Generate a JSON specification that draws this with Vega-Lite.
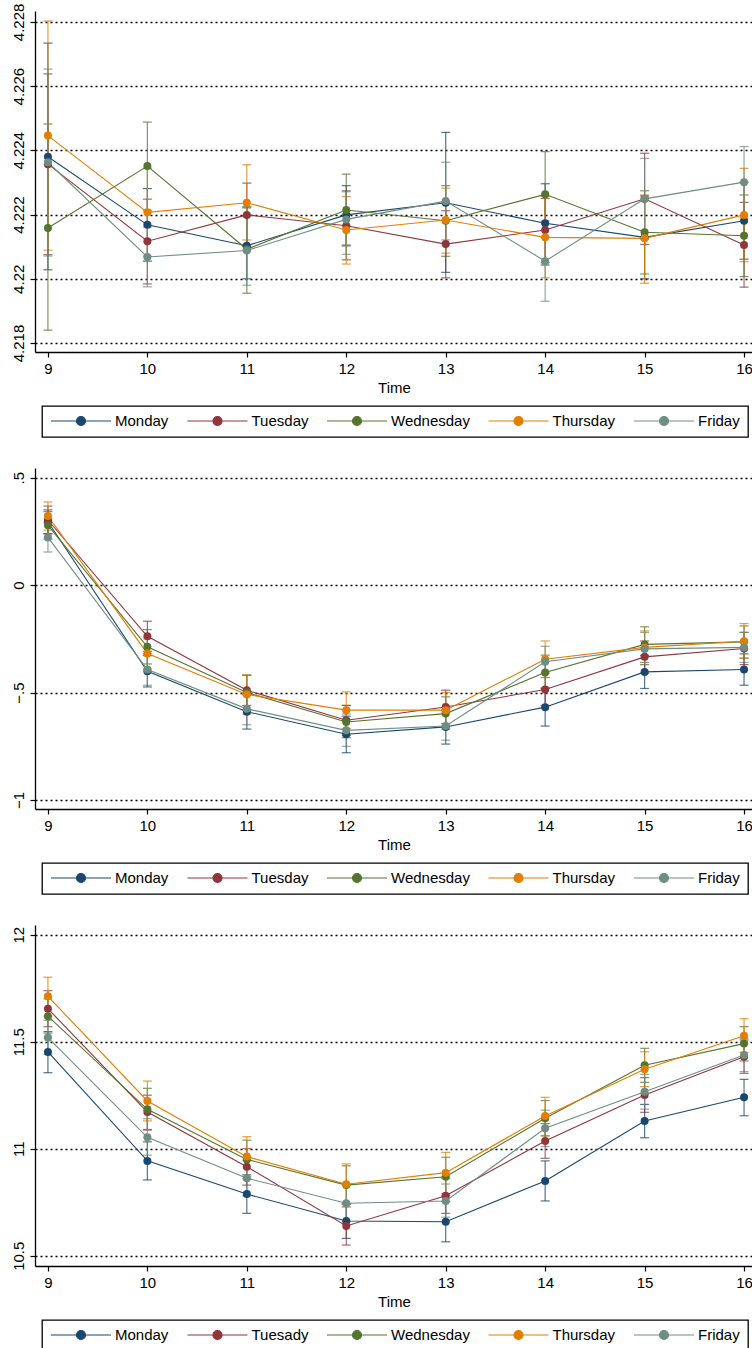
{
  "$schema": "https://vega.github.io/schema/vega-lite/v6.json",
  "padding": {"left": 10, "top": 3, "right": 0, "bottom": 0},
  "background": "white",
  "spacing": 30,
  "datasets": {
    "p1": [
      {"h":9,"d":"Monday","m":4.2238,"lo":4.22028,"hi":4.22734},
      {"h":10,"d":"Monday","m":4.22168,"lo":4.22055,"hi":4.22281},
      {"h":11,"d":"Monday","m":4.22103,"lo":4.2200,"hi":4.22221},
      {"h":12,"d":"Monday","m":4.22199,"lo":4.22105,"hi":4.2229},
      {"h":13,"d":"Monday","m":4.22237,"lo":4.2202,"hi":4.22456},
      {"h":14,"d":"Monday","m":4.22173,"lo":4.22043,"hi":4.22296},
      {"h":15,"d":"Monday","m":4.22129,"lo":4.2200,"hi":4.22258},
      {"h":16,"d":"Monday","m":4.22181,"lo":4.22061,"hi":4.22301},
      {"h":9,"d":"Tuesday","m":4.22357,"lo":4.22075,"hi":4.22638},
      {"h":10,"d":"Tuesday","m":4.22117,"lo":4.21984,"hi":4.22248},
      {"h":11,"d":"Tuesday","m":4.22199,"lo":4.221,"hi":4.22298},
      {"h":12,"d":"Tuesday","m":4.22165,"lo":4.22059,"hi":4.22274},
      {"h":13,"d":"Tuesday","m":4.22108,"lo":4.22003,"hi":4.22212},
      {"h":14,"d":"Tuesday","m":4.22152,"lo":4.2205,"hi":4.2225},
      {"h":15,"d":"Tuesday","m":4.22249,"lo":4.22107,"hi":4.22391},
      {"h":16,"d":"Tuesday","m":4.22105,"lo":4.21974,"hi":4.22238},
      {"h":9,"d":"Wednesday","m":4.22158,"lo":4.2184,"hi":4.22482},
      {"h":10,"d":"Wednesday","m":4.22351,"lo":4.22214,"hi":4.22488},
      {"h":11,"d":"Wednesday","m":4.22092,"lo":4.21955,"hi":4.22225},
      {"h":12,"d":"Wednesday","m":4.22214,"lo":4.22102,"hi":4.22326},
      {"h":13,"d":"Wednesday","m":4.22181,"lo":4.2207,"hi":4.2229},
      {"h":14,"d":"Wednesday","m":4.22263,"lo":4.2213,"hi":4.22396},
      {"h":15,"d":"Wednesday","m":4.22145,"lo":4.22015,"hi":4.22274},
      {"h":16,"d":"Wednesday","m":4.22134,"lo":4.22007,"hi":4.22261},
      {"h":9,"d":"Thursday","m":4.22446,"lo":4.22089,"hi":4.22803},
      {"h":10,"d":"Thursday","m":4.22207,"lo":4.2207,"hi":4.22344},
      {"h":11,"d":"Thursday","m":4.22237,"lo":4.22121,"hi":4.22355},
      {"h":12,"d":"Thursday","m":4.22152,"lo":4.22046,"hi":4.22256},
      {"h":13,"d":"Thursday","m":4.22183,"lo":4.2208,"hi":4.22282},
      {"h":14,"d":"Thursday","m":4.22129,"lo":4.22003,"hi":4.22256},
      {"h":15,"d":"Thursday","m":4.22126,"lo":4.21986,"hi":4.22261},
      {"h":16,"d":"Thursday","m":4.22199,"lo":4.22053,"hi":4.22344},
      {"h":9,"d":"Friday","m":4.22363,"lo":4.22071,"hi":4.22653},
      {"h":10,"d":"Friday","m":4.22068,"lo":4.21975,"hi":4.22161},
      {"h":11,"d":"Friday","m":4.22088,"lo":4.2198,"hi":4.22196},
      {"h":12,"d":"Friday","m":4.22185,"lo":4.22076,"hi":4.22271},
      {"h":13,"d":"Friday","m":4.22242,"lo":4.22121,"hi":4.22363},
      {"h":14,"d":"Friday","m":4.22055,"lo":4.2193,"hi":4.2218},
      {"h":15,"d":"Friday","m":4.22249,"lo":4.22123,"hi":4.22375},
      {"h":16,"d":"Friday","m":4.22301,"lo":4.2219,"hi":4.22412}
    ],
    "p2": [
      {"h":9,"d":"Monday","m":0.295,"lo":0.24,"hi":0.35},
      {"h":10,"d":"Monday","m":-0.401,"lo":-0.474,"hi":-0.328},
      {"h":11,"d":"Monday","m":-0.589,"lo":-0.67,"hi":-0.51},
      {"h":12,"d":"Monday","m":-0.694,"lo":-0.78,"hi":-0.61},
      {"h":13,"d":"Monday","m":-0.66,"lo":-0.74,"hi":-0.58},
      {"h":14,"d":"Monday","m":-0.568,"lo":-0.656,"hi":-0.48},
      {"h":15,"d":"Monday","m":-0.404,"lo":-0.481,"hi":-0.327},
      {"h":16,"d":"Monday","m":-0.393,"lo":-0.466,"hi":-0.32},
      {"h":9,"d":"Tuesday","m":0.303,"lo":0.238,"hi":0.368},
      {"h":10,"d":"Tuesday","m":-0.238,"lo":-0.308,"hi":-0.168},
      {"h":11,"d":"Tuesday","m":-0.489,"lo":-0.56,"hi":-0.419},
      {"h":12,"d":"Tuesday","m":-0.629,"lo":-0.7,"hi":-0.56},
      {"h":13,"d":"Tuesday","m":-0.567,"lo":-0.645,"hi":-0.489},
      {"h":14,"d":"Tuesday","m":-0.486,"lo":-0.56,"hi":-0.41},
      {"h":15,"d":"Tuesday","m":-0.334,"lo":-0.41,"hi":-0.26},
      {"h":16,"d":"Tuesday","m":-0.295,"lo":-0.37,"hi":-0.22},
      {"h":9,"d":"Wednesday","m":0.278,"lo":0.214,"hi":0.342},
      {"h":10,"d":"Wednesday","m":-0.287,"lo":-0.367,"hi":-0.207},
      {"h":11,"d":"Wednesday","m":-0.5,"lo":-0.58,"hi":-0.42},
      {"h":12,"d":"Wednesday","m":-0.637,"lo":-0.71,"hi":-0.56},
      {"h":13,"d":"Wednesday","m":-0.598,"lo":-0.67,"hi":-0.52},
      {"h":14,"d":"Wednesday","m":-0.407,"lo":-0.48,"hi":-0.326},
      {"h":15,"d":"Wednesday","m":-0.276,"lo":-0.36,"hi":-0.194},
      {"h":16,"d":"Wednesday","m":-0.264,"lo":-0.34,"hi":-0.19},
      {"h":9,"d":"Thursday","m":0.3215,"lo":0.256,"hi":0.387},
      {"h":10,"d":"Thursday","m":-0.318,"lo":-0.39,"hi":-0.25},
      {"h":11,"d":"Thursday","m":-0.509,"lo":-0.6,"hi":-0.419},
      {"h":12,"d":"Thursday","m":-0.582,"lo":-0.667,"hi":-0.497},
      {"h":13,"d":"Thursday","m":-0.582,"lo":-0.66,"hi":-0.5},
      {"h":14,"d":"Thursday","m":-0.345,"lo":-0.43,"hi":-0.26},
      {"h":15,"d":"Thursday","m":-0.29,"lo":-0.37,"hi":-0.213},
      {"h":16,"d":"Thursday","m":-0.261,"lo":-0.34,"hi":-0.179},
      {"h":9,"d":"Friday","m":0.222,"lo":0.154,"hi":0.29},
      {"h":10,"d":"Friday","m":-0.393,"lo":-0.466,"hi":-0.32},
      {"h":11,"d":"Friday","m":-0.576,"lo":-0.65,"hi":-0.5},
      {"h":12,"d":"Friday","m":-0.676,"lo":-0.75,"hi":-0.6},
      {"h":13,"d":"Friday","m":-0.656,"lo":-0.722,"hi":-0.59},
      {"h":14,"d":"Friday","m":-0.357,"lo":-0.43,"hi":-0.285},
      {"h":15,"d":"Friday","m":-0.297,"lo":-0.37,"hi":-0.22},
      {"h":16,"d":"Friday","m":-0.29,"lo":-0.36,"hi":-0.22}
    ],
    "p3": [
      {"h":9,"d":"Monday","m":11.452,"lo":11.355,"hi":11.547},
      {"h":10,"d":"Monday","m":10.943,"lo":10.854,"hi":11.032},
      {"h":11,"d":"Monday","m":10.788,"lo":10.698,"hi":10.878},
      {"h":12,"d":"Monday","m":10.662,"lo":10.581,"hi":10.743},
      {"h":13,"d":"Monday","m":10.659,"lo":10.565,"hi":10.753},
      {"h":14,"d":"Monday","m":10.849,"lo":10.756,"hi":10.943},
      {"h":15,"d":"Monday","m":11.129,"lo":11.051,"hi":11.207},
      {"h":16,"d":"Monday","m":11.24,"lo":11.154,"hi":11.324},
      {"h":9,"d":"Tuesday","m":11.654,"lo":11.57,"hi":11.738},
      {"h":10,"d":"Tuesday","m":11.171,"lo":11.087,"hi":11.25},
      {"h":11,"d":"Tuesday","m":10.916,"lo":10.83,"hi":11.0},
      {"h":12,"d":"Tuesday","m":10.639,"lo":10.55,"hi":10.728},
      {"h":13,"d":"Tuesday","m":10.78,"lo":10.698,"hi":10.862},
      {"h":14,"d":"Tuesday","m":11.036,"lo":10.955,"hi":11.117},
      {"h":15,"d":"Tuesday","m":11.251,"lo":11.17,"hi":11.332},
      {"h":16,"d":"Tuesday","m":11.43,"lo":11.352,"hi":11.508},
      {"h":9,"d":"Wednesday","m":11.619,"lo":11.54,"hi":11.7},
      {"h":10,"d":"Wednesday","m":11.184,"lo":11.09,"hi":11.282},
      {"h":11,"d":"Wednesday","m":10.95,"lo":10.86,"hi":11.04},
      {"h":12,"d":"Wednesday","m":10.83,"lo":10.74,"hi":10.92},
      {"h":13,"d":"Wednesday","m":10.869,"lo":10.78,"hi":10.96},
      {"h":14,"d":"Wednesday","m":11.142,"lo":11.06,"hi":11.225},
      {"h":15,"d":"Wednesday","m":11.39,"lo":11.31,"hi":11.469},
      {"h":16,"d":"Wednesday","m":11.491,"lo":11.41,"hi":11.57},
      {"h":9,"d":"Thursday","m":11.712,"lo":11.62,"hi":11.801},
      {"h":10,"d":"Thursday","m":11.223,"lo":11.13,"hi":11.316},
      {"h":11,"d":"Thursday","m":10.963,"lo":10.87,"hi":11.056},
      {"h":12,"d":"Thursday","m":10.834,"lo":10.74,"hi":10.929},
      {"h":13,"d":"Thursday","m":10.888,"lo":10.79,"hi":10.983},
      {"h":14,"d":"Thursday","m":11.153,"lo":11.06,"hi":11.24},
      {"h":15,"d":"Thursday","m":11.371,"lo":11.29,"hi":11.453},
      {"h":16,"d":"Thursday","m":11.528,"lo":11.45,"hi":11.607},
      {"h":9,"d":"Friday","m":11.519,"lo":11.44,"hi":11.6},
      {"h":10,"d":"Friday","m":11.053,"lo":10.97,"hi":11.14},
      {"h":11,"d":"Friday","m":10.862,"lo":10.78,"hi":10.945},
      {"h":12,"d":"Friday","m":10.745,"lo":10.66,"hi":10.83},
      {"h":13,"d":"Friday","m":10.756,"lo":10.68,"hi":10.835},
      {"h":14,"d":"Friday","m":11.095,"lo":11.01,"hi":11.18},
      {"h":15,"d":"Friday","m":11.266,"lo":11.185,"hi":11.347},
      {"h":16,"d":"Friday","m":11.438,"lo":11.36,"hi":11.515}
    ]
  },
  "resolve": {"scale": {"color": "independent", "y": "independent"}, "legend": {"color": "independent"}},
  "vconcat": [
    {
      "data": {"name": "p1"},
      "width": 718, "height": 341,
      "encoding": {
        "x": {"field": "h", "type": "quantitative", "scale": {"domain": [8.87, 16.09], "nice": false, "zero": false}, "axis": {"values": [9,10,11,12,13,14,15,16], "format": "d", "title": "Time"}},
        "color": {"field": "d", "type": "nominal", "scale": {"domain": ["Monday","Tuesday","Wednesday","Thursday","Friday"], "range": ["#1a476f","#90353b","#55752f","#e37e00","#6e8e84"]},
          "legend": {"orient": "none", "legendX": 7, "legendY": 395}}
      },
      "layer": [
        {"mark": {"type": "errorbar", "ticks": {"size": 9, "opacity": 0.75}, "rule": {"opacity": 0.75}, "thickness": 1.2},
         "encoding": {"y": {"field": "lo", "type": "quantitative", "scale": {"domain": [4.21772, 4.22834], "nice": false, "zero": false}, "axis": {"values": [4.218,4.22,4.222,4.224,4.226,4.228], "format": "~g", "title": null}}, "y2": {"field": "hi"}}},
        {"mark": {"type": "line", "strokeWidth": 1.1},
         "encoding": {"y": {"field": "m", "type": "quantitative", "scale": {"domain": [4.21772, 4.22834], "nice": false, "zero": false}, "axis": {"values": [4.218,4.22,4.222,4.224,4.226,4.228], "format": "~g", "title": null}}}},
        {"mark": {"type": "point", "filled": true, "opacity": 1, "size": 64},
         "encoding": {"y": {"field": "m", "type": "quantitative", "scale": {"domain": [4.21772, 4.22834], "nice": false, "zero": false}, "axis": {"values": [4.218,4.22,4.222,4.224,4.226,4.228], "format": "~g", "title": null}}}}
      ]
    },
    {
      "data": {"name": "p2"},
      "width": 718, "height": 341,
      "encoding": {
        "x": {"field": "h", "type": "quantitative", "scale": {"domain": [8.87, 16.09], "nice": false, "zero": false}, "axis": {"values": [9,10,11,12,13,14,15,16], "format": "d", "title": "Time"}},
        "color": {"field": "d", "type": "nominal", "scale": {"domain": ["Monday","Tuesday","Wednesday","Thursday","Friday"], "range": ["#1a476f","#90353b","#55752f","#e37e00","#6e8e84"]},
          "legend": {"orient": "none", "legendX": 7, "legendY": 395}}
      },
      "layer": [
        {"mark": {"type": "errorbar", "ticks": {"size": 9, "opacity": 0.75}, "rule": {"opacity": 0.75}, "thickness": 1.2},
         "encoding": {"y": {"field": "lo", "type": "quantitative", "scale": {"domain": [-1.042, 0.545], "nice": false, "zero": false}, "axis": {"values": [-1,-0.5,0,0.5], "labelExpr": "datum.value == 0 ? '0' : replace(replace(format(datum.value, '.1f'), '0.', '.'), '.0', '')", "title": null}}, "y2": {"field": "hi"}}},
        {"mark": {"type": "line", "strokeWidth": 1.1},
         "encoding": {"y": {"field": "m", "type": "quantitative", "scale": {"domain": [-1.042, 0.545], "nice": false, "zero": false}, "axis": {"values": [-1,-0.5,0,0.5], "labelExpr": "datum.value == 0 ? '0' : replace(replace(format(datum.value, '.1f'), '0.', '.'), '.0', '')", "title": null}}}},
        {"mark": {"type": "point", "filled": true, "opacity": 1, "size": 64},
         "encoding": {"y": {"field": "m", "type": "quantitative", "scale": {"domain": [-1.042, 0.545], "nice": false, "zero": false}, "axis": {"values": [-1,-0.5,0,0.5], "labelExpr": "datum.value == 0 ? '0' : replace(replace(format(datum.value, '.1f'), '0.', '.'), '.0', '')", "title": null}}}}
      ]
    },
    {
      "data": {"name": "p3"},
      "width": 718, "height": 341,
      "encoding": {
        "x": {"field": "h", "type": "quantitative", "scale": {"domain": [8.87, 16.09], "nice": false, "zero": false}, "axis": {"values": [9,10,11,12,13,14,15,16], "format": "d", "title": "Time"}},
        "color": {"field": "d", "type": "nominal", "scale": {"domain": ["Monday","Tuesday","Wednesday","Thursday","Friday"], "range": ["#1a476f","#90353b","#55752f","#e37e00","#6e8e84"]},
          "legend": {"orient": "none", "legendX": 7, "legendY": 395, "labelExpr": "datum.label == 'Tuesday' ? 'Tuesady' : datum.label"}}
      },
      "layer": [
        {"mark": {"type": "errorbar", "ticks": {"size": 9, "opacity": 0.75}, "rule": {"opacity": 0.75}, "thickness": 1.2},
         "encoding": {"y": {"field": "lo", "type": "quantitative", "scale": {"domain": [10.452, 12.045], "nice": false, "zero": false}, "axis": {"values": [10.5,11,11.5,12], "format": "~g", "title": null}}, "y2": {"field": "hi"}}},
        {"mark": {"type": "line", "strokeWidth": 1.1},
         "encoding": {"y": {"field": "m", "type": "quantitative", "scale": {"domain": [10.452, 12.045], "nice": false, "zero": false}, "axis": {"values": [10.5,11,11.5,12], "format": "~g", "title": null}}}},
        {"mark": {"type": "point", "filled": true, "opacity": 1, "size": 64},
         "encoding": {"y": {"field": "m", "type": "quantitative", "scale": {"domain": [10.452, 12.045], "nice": false, "zero": false}, "axis": {"values": [10.5,11,11.5,12], "format": "~g", "title": null}}}}
      ]
    }
  ],
  "config": {
    "view": {"stroke": null},
    "font": "Liberation Sans",
    "axis": {"domainColor": "black", "domainWidth": 1.3, "tickColor": "black", "tickSize": 5, "tickWidth": 1.2, "labelFontSize": 15, "labelColor": "black", "titleFontSize": 15, "titleFontWeight": "normal", "titleColor": "black", "labelFont": "Liberation Sans", "titleFont": "Liberation Sans", "labelPadding": 4},
    "axisX": {"grid": false, "labelFlush": false, "titlePadding": 4},
    "axisY": {"labelAngle": -90, "grid": true, "gridColor": "black", "gridDash": [2, 3], "gridWidth": 1.4, "gridOpacity": 1},
    "legend": {"direction": "horizontal", "columns": 5, "title": null, "strokeColor": "black", "strokeWidth": 1.3, "padding": 8, "columnPadding": 17.5, "labelFontSize": 15, "labelColor": "black", "labelFont": "Liberation Sans", "labelOffset": 3, "symbolOpacity": 1, "symbolType": "M -1 0 L 1 0 M -0.15 0 A 0.15 0.15 0 1 0 0.15 0 A 0.15 0.15 0 1 0 -0.15 0 Z", "symbolSize": 3600, "symbolStrokeWidth": 1.2, "clipHeight": 14}
  }
}
